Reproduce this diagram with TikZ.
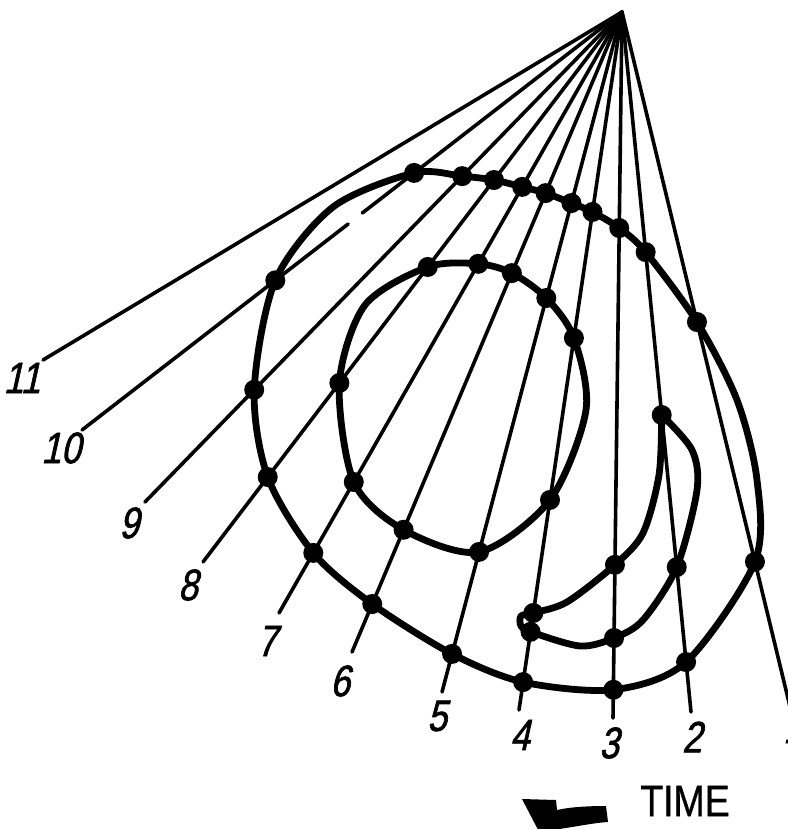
\documentclass[tikz,border=0pt]{standalone}
\usepackage{fontspec}
\newfontfamily\labfont[FakeSlant=0.22,FakeStretch=0.8,FakeBold=1.5]{Liberation Sans}
\newfontfamily\timefont[FakeStretch=0.85,FakeBold=0.8]{Liberation Sans}
\usetikzlibrary{calc}
\begin{document}
\begin{tikzpicture}[x=1pt,y=-1pt,
  ray/.style={line width=3.6pt, line cap=round},
  front/.style={line width=6.8pt, line join=round},
  dot/.style={circle, fill=black, inner sep=0pt, minimum size=20pt},
  lab/.style={font=\labfont\fontsize{44}{44}\selectfont, inner sep=0pt},
  timelab/.style={font=\timefont\fontsize{44}{44}\selectfont, inner sep=0pt}]
\useasboundingbox (0,0) rectangle (787,829);
% apex and ray ends
\coordinate (A) at (622,12);
\coordinate (E1) at (792,715);
\coordinate (E2) at (691,712);
\coordinate (E3) at (613,718);
\coordinate (E4) at (519,710);
\coordinate (E5) at (442,692);
\coordinate (E6) at (352,652);
\coordinate (E7) at (279,613);
\coordinate (E8) at (203,562);
\coordinate (E9) at (145,502);
\coordinate (E10) at (82,430);
\coordinate (E11) at (43,360);
% crossing points on the rays
\foreach \n/\r/\t in {O10a/10/0.385, O9a/9/0.335, O8a/8/0.3055, O7a/7/0.291,
  O6a/6/0.283, O5a/5/0.281, O4a/4/0.2865, O3a/3/0.306, O2a/2/0.343, O1a/1/0.441,
  O1b/1/0.782, O2b/2/0.9286, O3b/3/0.960, O4b/4/0.960, O5b/5/0.944, O6b/6/0.925,
  O7b/7/0.900, O8b/8/0.8455, O9b/9/0.771, O10b/10/0.642,
  I8a/8/0.4636, I7a/7/0.419, I6a/6/0.408, I5a/5/0.4206, I4a/4/0.467,
  I4b/4/0.699, I5b/5/0.794, I6b/6/0.809, I7b/7/0.782, I8b/8/0.6745,
  N2a/2/0.5757, N2b/2/0.793, N3b/3/0.8867, N4b/4/0.888, N3a/3/0.783, N4a/4/0.861}
  {\coordinate (\n) at ($(A)!\t!(E\r)$);}
% rays
\foreach \r in {1,...,9,11} {\draw[ray] (A) -- (E\r);}
\coordinate (G1) at ($(A)!0.481!(E10)$);
\coordinate (G2) at ($(A)!0.507!(E10)$);
\draw[ray] (A) -- (G1);
\draw[ray] (G2) -- (E10);
% curves
\draw[front] plot[smooth cycle] coordinates {(O10a) (O9a) (O8a) (O7a) (O6a) (O5a)
  (O4a) (O3a) (O2a) (O1a) (737,400) (757,480) (O1b) (O2b) (O3b) (O4b) (O5b)
  (O6b) (O7b) (O8b) (O9b) (O10b) (333,207)};
\draw[front] plot[smooth cycle] coordinates {(I8a) (I7a) (I6a) (I5a) (I4a)
  (586,410) (I4b) (I5b) (I6b) (I7b) (I8b) (365,305)};
\draw[front] plot[smooth] coordinates {(N2a) (692,450) (697,490) (N2b) (643,620)
  (N3b) (580,646) (N4b) (521,626) (521,616) (N4a) (567,602) (N3a) (643,533)
  (659,475) (N2a)};
% dots
\foreach \n in {O10a,O9a,O8a,O7a,O6a,O5a,O4a,O3a,O2a,O1a,O1b,O2b,O3b,O4b,O5b,
  O6b,O7b,O8b,O9b,O10b,I8a,I7a,I6a,I5a,I4a,I4b,I5b,I6b,I7b,I8b,
  N2a,N2b,N3b,N4b,N3a,N4a}
  {\node[dot] (d\n) at (\n) {};}
% labels
\node[lab] (L1) at (793,728) {1};
\node[lab] (L2) at (692,737) {2};
\node[lab] (L3) at (609,743) {3};
\node[lab] (L4) at (520,735) {4};
\node[lab] (L5) at (437,716) {5};
\node[lab] (L6) at (340,681) {6};
\node[lab] (L7) at (267,641) {7};
\node[lab] (L8) at (188,585) {8};
\node[lab] (L9) at (129,523) {9};
\node[lab] (L10) at (61,448) {10};
\node[lab] (L11) at (22,378) {11};
\node[timelab] (T) at (685,801) {TIME};
% time arrow
\fill (606,806) .. controls (588,806) and (570,807) .. (557,810) -- (556,800)
  -- (522,799) -- (546,845) -- (552,830) .. controls (575,827) and (592,823)
  .. (608,822) -- cycle;
\end{tikzpicture}
\end{document}
